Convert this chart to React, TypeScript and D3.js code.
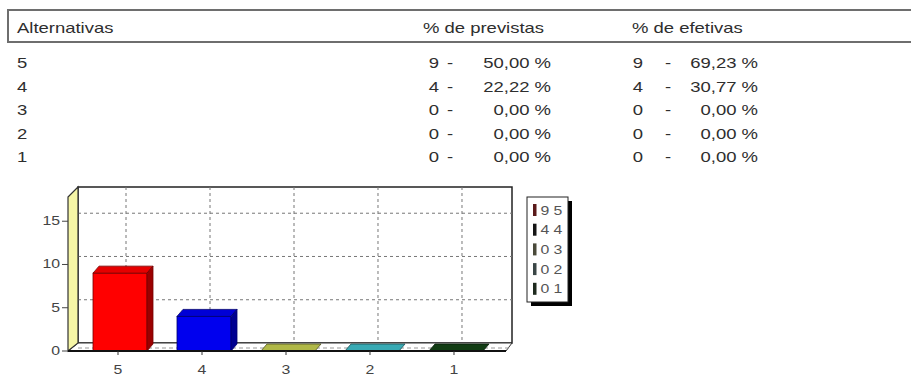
import React from "react";
import * as d3 from "d3";

const alternatives = ["5", "4", "3", "2", "1"];
const previstasCount = [9, 4, 0, 0, 0];
const previstasPct = [50.0, 22.22, 0.0, 0.0, 0.0];
const efetivasCount = [9, 4, 0, 0, 0];
const efetivasPct = [69.23, 30.77, 0.0, 0.0, 0.0];
const chartValues = [9, 4, 0, 0, 0];
const yTicks = [0, 5, 10, 15];
const barColors = ["#ff0000", "#0000ee", "#b0b848", "#38aab4", "#123d14"];
const legendSymbolColors = ["#5a1a1a", "#151515", "#4a4a3a", "#3a4646", "#1e2a1e"];

const W = 911;
const H = 378;
const SX = 1.32; // horizontal stretch of the scanned text

const fmt = (v: number) => v.toFixed(2).replace(".", ",") + " %";

function T(props: { x: number; y: number; anchor?: string; size?: number; fill?: string; children: any }) {
  const { x, y, anchor = "start", size = 14, fill = "#2e2e2e", children } = props;
  return (
    <text
      transform={`translate(${x},${y}) scale(${SX},1)`}
      textAnchor={anchor}
      fontSize={size}
      fill={fill}
      fontFamily="Liberation Sans, Arial, sans-serif"
    >
      {children}
    </text>
  );
}

export default function App() {
  // chart geometry
  const frontLeft = 68;
  const frontBase = 351;
  const wallDx = 10;
  const wallDy = -8;
  const backRight = 512;
  const backTop = 187;
  const barDx = 6;
  const barDy = -7;

  const x = d3.scaleBand().domain(alternatives).range([78, 498]).paddingInner(0.357).paddingOuter(0.1786);
  const y = d3.scaleLinear().domain([0, 17.8]).range([frontBase, 197]);

  const rowY = (i: number) => 68 + i * 23.6;

  return (
    <svg width={W} height={H} style={{ position: "absolute", left: 0, top: 0, background: "#fff" }}>
      <rect x={0} y={0} width={W} height={H} fill="#fff" />
      {/* table header */}
      <rect x={8} y={10} width={W + 10} height={32} fill="#fff" stroke="#6e6e6e" strokeWidth={2} />
      <T x={17} y={33}>Alternativas</T>
      <T x={423} y={33}>% de previstas</T>
      <T x={632} y={33}>% de efetivas</T>
      {alternatives.map((a, i) => (
        <g key={"row" + a}>
          <T x={17} y={rowY(i)}>{a}</T>
          <T x={439} y={rowY(i)} anchor="end">{String(previstasCount[i])}</T>
          <T x={450} y={rowY(i)} anchor="middle">-</T>
          <T x={551} y={rowY(i)} anchor="end">{fmt(previstasPct[i])}</T>
          <T x={643} y={rowY(i)} anchor="end">{String(efetivasCount[i])}</T>
          <T x={668} y={rowY(i)} anchor="middle">-</T>
          <T x={758} y={rowY(i)} anchor="end">{fmt(efetivasPct[i])}</T>
        </g>
      ))}

      {/* back wall */}
      <rect
        x={frontLeft + wallDx}
        y={backTop}
        width={backRight - frontLeft - wallDx}
        height={frontBase + wallDy - backTop}
        fill="#fff"
        stroke="#222"
        strokeWidth={1.5}
      />
      {/* horizontal grid */}
      {yTicks.filter((t) => t > 0).map((t) => (
        <line
          key={"hg" + t}
          x1={frontLeft + wallDx}
          x2={backRight}
          y1={y(t) + wallDy}
          y2={y(t) + wallDy}
          stroke="#777"
          strokeDasharray="3,3"
        />
      ))}
      {/* vertical grid */}
      {alternatives.map((a) => {
        const cx = (x(a) as number) + x.bandwidth() / 2 + 6;
        return (
          <line key={"vg" + a} x1={cx} x2={cx} y1={backTop} y2={frontBase + wallDy} stroke="#777" strokeDasharray="3,3" />
        );
      })}
      {/* floor */}
      <polygon
        points={`${frontLeft},${frontBase} ${frontLeft + wallDx},${frontBase + wallDy} ${backRight},${frontBase + wallDy} ${backRight - wallDx + 4},${frontBase}`}
        fill="#fff"
        stroke="#333"
        strokeWidth={1}
      />
      <line x1={frontLeft + wallDx} x2={backRight} y1={frontBase - 3} y2={frontBase - 3} stroke="#999" strokeDasharray="4,3" />
      {/* left wall */}
      <polygon
        points={`${frontLeft},${y(17.8)} ${frontLeft + wallDx},${backTop} ${frontLeft + wallDx},${frontBase + wallDy} ${frontLeft},${frontBase}`}
        fill="#f6f6a6"
        stroke="#333"
        strokeWidth={1.2}
      />

      {/* bars */}
      {alternatives.map((a, i) => {
        const x0 = x(a) as number;
        const x1 = x0 + x.bandwidth();
        const yt = y(chartValues[i]);
        const c = d3.color(barColors[i])!;
        const side = c.darker(1.4).formatHex();
        const top = c.darker(0.3).formatHex();
        const edge = c.darker(2.2).formatHex();
        return (
          <g key={"bar" + a}>
            {chartValues[i] > 0 && (
              <rect x={x0} y={yt} width={x1 - x0} height={frontBase - yt} fill={barColors[i]} stroke={edge} strokeWidth={0.8} />
            )}
            <polygon
              points={`${x0},${yt} ${x0 + barDx},${yt + barDy} ${x1 + barDx},${yt + barDy} ${x1},${yt}`}
              fill={chartValues[i] > 0 ? top : barColors[i]}
              stroke={edge}
              strokeWidth={0.8}
            />
            {chartValues[i] > 0 && (
              <polygon
                points={`${x1},${yt} ${x1 + barDx},${yt + barDy} ${x1 + barDx},${frontBase + barDy} ${x1},${frontBase}`}
                fill={side}
                stroke={edge}
                strokeWidth={0.8}
              />
            )}
          </g>
        );
      })}

      {/* bottom axis */}
      <line x1={frontLeft} x2={backRight - wallDx + 4} y1={frontBase} y2={frontBase} stroke="#111" strokeWidth={2} />
      {alternatives.map((a) => {
        const cx = (x(a) as number) + x.bandwidth() / 2 - 2;
        return (
          <g key={"xl" + a}>
            <line x1={cx} x2={cx} y1={frontBase} y2={frontBase + 4} stroke="#333" />
            <T x={cx} y={374} anchor="middle" size={12} fill="#444">{a}</T>
          </g>
        );
      })}
      {/* y axis ticks & labels */}
      {yTicks.map((t) => (
        <g key={"yl" + t}>
          <line x1={62} x2={frontLeft} y1={y(t)} y2={y(t)} stroke="#444" />
          <T x={60} y={y(t) + 4} anchor="end" size={12} fill="#444">{String(t)}</T>
        </g>
      ))}

      {/* legend */}
      <rect x={531} y={201} width={41} height={105} fill="#000" />
      <rect x={527} y={197} width={41} height={105} fill="#fff" stroke="#222" strokeWidth={1} />
      {alternatives.map((a, i) => {
        const cy = 210 + i * 19.7;
        return (
          <g key={"lg" + a}>
            <rect x={533} y={cy - 6} width={3.5} height={12} fill={legendSymbolColors[i]} />
            <T x={545} y={cy + 4.5} anchor="middle" size={12} fill="#555">{String(chartValues[i])}</T>
            <T x={558} y={cy + 4.5} anchor="middle" size={12} fill="#555">{a}</T>
          </g>
        );
      })}
    </svg>
  );
}
